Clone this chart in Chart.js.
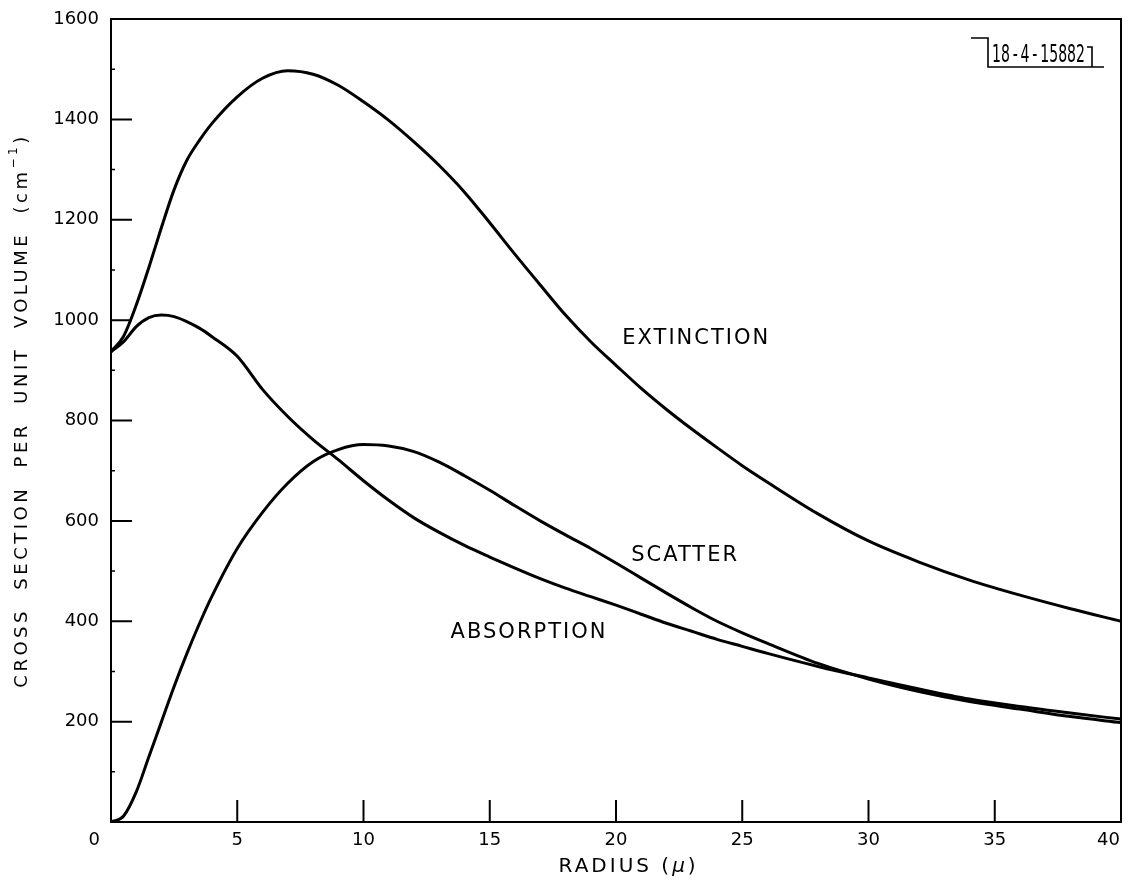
<!DOCTYPE html>
<html><head><meta charset="utf-8">
<script src="https://cdn.jsdelivr.net/npm/chart.js@4.4.1/dist/chart.umd.min.js"></script>
<style>html,body{margin:0;padding:0;background:#fff}#wrap{width:1129px;height:890px;position:relative}</style>
</head><body><div id="wrap"><canvas id="c"></canvas></div>
<script>
// ---- data ----
const radius     = [0,0.5,1,1.5,2,2.5,3,3.5,4,5,6,7,8,9,10,11,12,13,14,15,16,17,18,19,20,21,22,23,24,25,26,28,30,32,34,36,38,40];
const extinction = [937,968,1030,1105,1185,1260,1318,1358,1392,1445,1482,1497,1490,1468,1435,1398,1355,1308,1255,1194,1131,1070,1010,957,910,864,822,783,746,710,677,614,560,518,482,452,425,400];
const absorption = [937,957,987,1005,1010,1007,997,984,967,928,862,808,762,722,680,641,606,577,551,528,506,485,466,449,432,414,396,380,364,350,336,310,287,265,245,230,217,205];
const scatter    = [0,12,60,130,200,270,335,395,450,545,617,675,718,742,752,749,738,717,690,661,630,600,572,545,516,486,456,427,400,377,356,316,285,260,240,225,210,198];
const xTickValues = [0,5,10,15,20,25,30,35,40];
const yTickValues = [200,400,600,800,1000,1200,1400,1600];
const curveLabelText = ['EXTINCTION','SCATTER','ABSORPTION'];
const curveLabelX = [20.25, 20.6, 13.45];
const curveLabelY = [964, 530, 378];
const xTitle = ['RADIUS (', '\u03bc', ')'];
const yTitle = ['CROSS  SECTION  PER  UNIT  VOLUME  (cm', '\u22121', ')'];
const stampText = '18\u2009-\u20094\u2009-\u200915882';

const pts = ys => radius.map((r,i)=>({x:r, y:ys[i]}));
const FONT = '"DejaVu Sans", "Liberation Sans", sans-serif';

const decor = {
  id:'decor',
  afterDraw(chart){
    const {ctx, chartArea:a, scales:{x, y}} = chart;
    ctx.save();
    ctx.strokeStyle = '#000'; ctx.fillStyle = '#000';
    // frame
    ctx.lineWidth = 2;
    ctx.strokeRect(a.left, a.top, a.right - a.left, a.bottom - a.top);
    // major ticks (inward)
    ctx.beginPath();
    xTickValues.forEach(v => { const px = x.getPixelForValue(v); ctx.moveTo(px, a.bottom); ctx.lineTo(px, a.bottom - 22); });
    yTickValues.forEach(v => { const py = y.getPixelForValue(v); ctx.moveTo(a.left, py); ctx.lineTo(a.left + 21, py); });
    ctx.stroke();
    // minor y ticks
    ctx.lineWidth = 1.5; ctx.beginPath();
    for (let v = 100; v < 1600; v += 200) { const py = y.getPixelForValue(v); ctx.moveTo(a.left, py); ctx.lineTo(a.left + 4, py); }
    ctx.stroke();

    // x tick labels
    ctx.font = '18px ' + FONT; ctx.textBaseline = 'middle';
    xTickValues.forEach((v, i) => {
      const px = x.getPixelForValue(v);
      if (i === 0) { ctx.textAlign = 'right'; ctx.fillText(String(v), px - 11, a.bottom + 18); }
      else if (i === xTickValues.length - 1) { ctx.textAlign = 'right'; ctx.fillText(String(v), px - 1, a.bottom + 18); }
      else { ctx.textAlign = 'center'; ctx.fillText(String(v), px, a.bottom + 18); }
    });

    // x title
    ctx.textAlign = 'left'; ctx.letterSpacing = '3px';
    ctx.font = '20px ' + FONT; const w1 = ctx.measureText(xTitle[0]).width;
    ctx.font = 'italic 20px ' + FONT; const w2 = ctx.measureText(xTitle[1]).width;
    ctx.font = '20px ' + FONT; const w3 = ctx.measureText(xTitle[2]).width;
    let sx = x.getPixelForValue(20.5) - (w1 + w2 + w3) / 2, ty = a.bottom + 45;
    ctx.fillText(xTitle[0], sx, ty);
    ctx.font = 'italic 20px ' + FONT; ctx.fillText(xTitle[1], sx + w1, ty);
    ctx.font = '20px ' + FONT; ctx.fillText(xTitle[2], sx + w1 + w2, ty);

    // y title (rotated)
    ctx.save();
    ctx.translate(22, (a.top + a.bottom) / 2 - 10);
    ctx.rotate(-Math.PI / 2);
    ctx.letterSpacing = '3.5px';
    ctx.font = '18px ' + FONT; const m1 = ctx.measureText(yTitle[0]).width;
    ctx.font = '12px ' + FONT; const m2 = ctx.measureText(yTitle[1]).width;
    ctx.font = '18px ' + FONT; const m3 = ctx.measureText(yTitle[2]).width;
    const s0 = -(m1 + m2 + m3) / 2;
    ctx.fillText(yTitle[0], s0, 0);
    ctx.font = '12px ' + FONT; ctx.fillText(yTitle[1], s0 + m1, -8);
    ctx.font = '18px ' + FONT; ctx.fillText(yTitle[2], s0 + m1 + m2, 0);
    ctx.restore();

    // curve labels
    ctx.font = '21px ' + FONT; ctx.letterSpacing = '2px'; ctx.textAlign = 'left';
    curveLabelText.forEach((t, i) => ctx.fillText(t, x.getPixelForValue(curveLabelX[i]), y.getPixelForValue(curveLabelY[i])));

    // stamp box
    ctx.letterSpacing = '0px';
    ctx.lineWidth = 1.6; ctx.beginPath();
    ctx.moveTo(a.right - 150, a.top + 19); ctx.lineTo(a.right - 133, a.top + 19);
    ctx.lineTo(a.right - 133, a.top + 48); ctx.lineTo(a.right - 17, a.top + 48);
    ctx.moveTo(a.right - 34, a.top + 28); ctx.lineTo(a.right - 29, a.top + 28); ctx.lineTo(a.right - 29, a.top + 48);
    ctx.stroke();
    ctx.font = '24px ' + FONT;
    const sw = ctx.measureText(stampText).width;
    ctx.save();
    ctx.translate(a.right - 129, a.top + 37);
    ctx.scale(93 / sw, 1);
    ctx.textAlign = 'left'; ctx.textBaseline = 'middle';
    ctx.fillText(stampText, 0, 0);
    ctx.restore();
    ctx.restore();
  }
};

const lineStyle = {showLine:true, borderColor:'#000', backgroundColor:'#000', borderWidth:3, pointRadius:0, fill:false, cubicInterpolationMode:'monotone'};

new Chart(document.getElementById('c'), {
  type: 'scatter',
  data: { datasets: [
    Object.assign({label:'EXTINCTION', data: pts(extinction)}, lineStyle),
    Object.assign({label:'SCATTER', data: pts(scatter)}, lineStyle),
    Object.assign({label:'ABSORPTION', data: pts(absorption)}, lineStyle)
  ]},
  options: {
    responsive:true, maintainAspectRatio:false, animation:false, devicePixelRatio:1,
    layout:{padding:{top:19, right:8, left:0, bottom:0}},
    plugins:{legend:{display:false}, tooltip:{enabled:false}},
    scales:{
      x:{type:'linear', min:0, max:40,
         ticks:{display:false, stepSize:5},
         grid:{display:false, drawTicks:false}, border:{display:false},
         afterFit(s){ s.height = 68; s.paddingLeft = 0; s.paddingRight = 0; }},
      y:{type:'linear', min:0, max:1600,
         ticks:{stepSize:200, color:'#000', padding:12, font:{family:'DejaVu Sans', size:18},
                callback:v => yTickValues.includes(v) ? String(v) : ''},
         grid:{display:false, drawTicks:false}, border:{display:false},
         afterFit(s){ s.width = 111; s.paddingTop = 0; s.paddingBottom = 0; }}
    }
  },
  plugins:[decor]
});
</script></body></html>
